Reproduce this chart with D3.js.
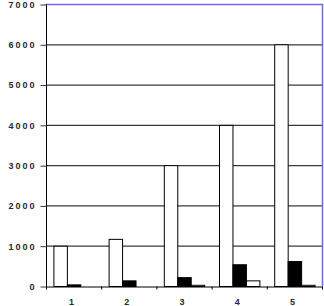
<!DOCTYPE html>
<html>
<head>
<meta charset="utf-8">
<script src="https://cdn.jsdelivr.net/npm/d3@7"></script>
<style>
  html, body { margin: 0; padding: 0; background: #fff; }
  .tick text { font-family: "Liberation Sans", Arial, sans-serif; font-weight: bold; font-size: 9px; letter-spacing: 2px; fill: #2a2a2a; }
</style>
</head>
<body>
<div id="chart"></div>
<script>
// Data
const categories = ["1", "2", "3", "4", "5"];
const seriesNames = ["a", "b", "c"];
const seriesA = [1000, 1170, 3000, 4000, 6000];
const seriesB = [40, 140, 220, 540, 620];
const seriesC = [0, 0, 30, 140, 30];
const yTicks = [0, 1000, 2000, 3000, 4000, 5000, 6000, 7000];

const fills = { a: "#fff", b: "#000", c: "#fff" };

// Dimensions
const dimensions = {
  width: 324,
  height: 306,
  left: 46,
  right: 322,
  top: 4,
  bottom: 286,
};

const svg = d3
  .select("#chart")
  .append("svg")
  .attr("width", dimensions.width)
  .attr("height", dimensions.height);

// Scales
const yScale = d3
  .scaleLinear()
  .domain([0, 7000])
  .range([dimensions.bottom, dimensions.top]);

const xScale = d3
  .scaleBand()
  .domain(categories)
  .range([dimensions.left, dimensions.right])
  .padding(0);

const xInner = d3
  .scaleBand()
  .domain(seriesNames)
  .range([0, xScale.bandwidth()])
  .paddingInner(0)
  .paddingOuter(0.55);

// Gridlines
svg
  .append("g")
  .selectAll("line")
  .data(yTicks.filter((d) => d > 0 && d < 7000))
  .join("line")
  .attr("x1", dimensions.left)
  .attr("x2", dimensions.right)
  .attr("y1", (d) => yScale(d) + 0.5)
  .attr("y2", (d) => yScale(d) + 0.5)
  .attr("stroke", "#3a3a3a")
  .attr("stroke-width", 1.2);

// Bars
const rows = categories.map((c, i) => ({
  cat: c,
  values: [
    { key: "a", value: seriesA[i] },
    { key: "b", value: seriesB[i] },
    { key: "c", value: seriesC[i] },
  ],
}));

svg
  .append("g")
  .selectAll("g")
  .data(rows)
  .join("g")
  .attr("transform", (d) => `translate(${xScale(d.cat)},0)`)
  .selectAll("rect")
  .data((d) => d.values.filter((v) => v.value > 0))
  .join("rect")
  .attr("x", (d) => xInner(d.key) + 0.5)
  .attr("y", (d) => yScale(d.value) + 0.5)
  .attr("width", xInner.bandwidth())
  .attr("height", (d) => yScale(0) - yScale(d.value))
  .attr("fill", (d) => fills[d.key])
  .attr("stroke", "#000")
  .attr("stroke-width", 1);

// Plot border (top and right)
svg
  .append("path")
  .attr(
    "d",
    `M${dimensions.left},${dimensions.top + 0.5}H${dimensions.right + 0.5}V${dimensions.bottom}`
  )
  .attr("fill", "none")
  .attr("stroke", "#6f6fc4")
  .attr("stroke-width", 1.5);

// Axes
const yAxis = d3
  .axisLeft(yScale)
  .tickValues(yTicks)
  .tickSize(6)
  .tickPadding(4)
  .tickFormat((d) => d);

const yAxisGroup = svg
  .append("g")
  .attr("transform", `translate(${dimensions.left + 0.5},0.5)`)
  .call(yAxis);
yAxisGroup.select(".domain").attr("d", `M0,${dimensions.top}V${dimensions.bottom + 3}`);
yAxisGroup.selectAll(".tick line").attr("stroke", "#333");

const xAxis = d3.axisBottom(xScale).tickSize(0).tickPadding(12);

const xAxisGroup = svg
  .append("g")
  .attr("transform", `translate(0,${dimensions.bottom + 0.5})`)
  .call(xAxis);
xAxisGroup.select(".domain").attr("stroke", "#000");
xAxisGroup.selectAll(".tick text").attr("dx", "-1px");

// small ticks at category boundaries
xAxisGroup
  .append("g")
  .selectAll("line")
  .data(categories)
  .join("line")
  .attr("x1", (d) => xScale(d) + xScale.bandwidth() + 0.5)
  .attr("x2", (d) => xScale(d) + xScale.bandwidth() + 0.5)
  .attr("y1", 0)
  .attr("y2", 3)
  .attr("stroke", "#000");
</script>
</body>
</html>
